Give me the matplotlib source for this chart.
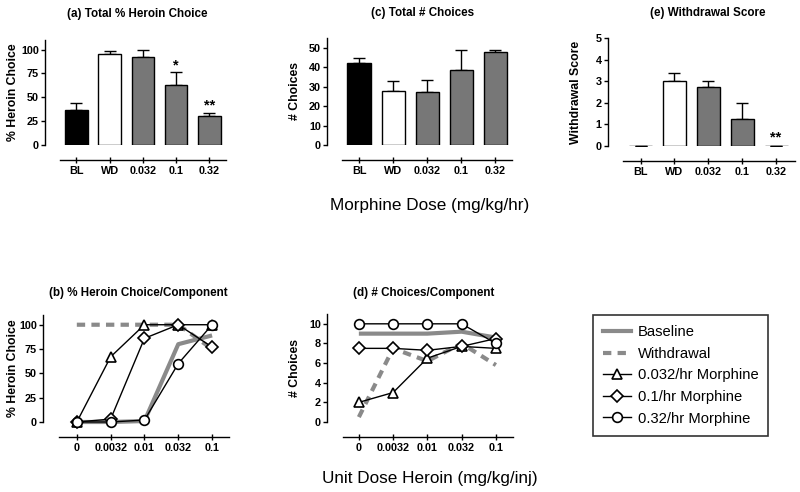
import matplotlib
matplotlib.use("Agg")
import matplotlib.pyplot as plt
from matplotlib.lines import Line2D

plt.rcParams['font.family'] = ['Liberation Sans', 'DejaVu Sans']

W, H = 800, 492

# ---- Data ----
bar_cats = ["BL", "WD", "0.032", "0.1", "0.32"]
bar_colors = ["black", "white", "#777777", "#777777", "#777777"]

pct_choice = [37, 95, 92, 63, 30]
pct_choice_err = [7, 4, 8, 13, 4]
pct_stars = ["", "", "", "*", "**"]

n_choices = [42, 28, 27, 38.5, 48]
n_choices_err = [2.5, 5, 6.5, 10.5, 0.7]

wd_score = [0, 3.0, 2.75, 1.25, 0]
wd_score_err = [0, 0.4, 0.25, 0.75, 0]
wd_stars = ["", "", "", "", "**"]

unit_doses = ["0", "0.0032", "0.01", "0.032", "0.1"]

comp_pct_baseline = [0, 0, 1, 80, 89]
comp_pct_withdrawal = [100, 100, 100, 100, 75]
comp_pct_m032 = [0, 67, 100, 100, 100]
comp_pct_m1 = [0, 3, 86, 100, 77]
comp_pct_m32 = [0, 0, 2, 60, 100]

comp_n_baseline = [9.0, 9.0, 9.0, 9.2, 8.6]
comp_n_withdrawal = [0.5, 7.5, 6.2, 8.0, 5.8]
comp_n_m032 = [2, 3, 6.5, 7.7, 7.5]
comp_n_m1 = [7.5, 7.5, 7.3, 7.7, 8.5]
comp_n_m32 = [10, 10, 10, 10, 8.0]

legend_labels = ["Baseline", "Withdrawal", "0.032/hr Morphine",
                 "0.1/hr Morphine", "0.32/hr Morphine"]

GRAY_LINE = "#8a8a8a"
TICK_FS = 7.8
YLAB_FS = 8.8
TITLE_FS = 8.4

fig = plt.figure(figsize=(W / 100, H / 100), dpi=100)


def make_ax(left, right, top, bottom):
    ax = fig.add_axes([left / W, 1 - bottom / H, (right - left) / W, (bottom - top) / H])
    ax._wpx = right - left
    return ax


def style_ax(ax, xlim, xbounds, ylim, yticks, ylabel, xlabels, ylab_off=31):
    ax.set_xlim(*xlim)
    ax.set_ylim(*ylim)
    for s in ["top", "right"]:
        ax.spines[s].set_visible(False)
    ax.spines["bottom"].set_position(("outward", 10.8))
    ax.spines["bottom"].set_bounds(*xbounds)
    for s in ["left", "bottom"]:
        ax.spines[s].set_linewidth(1.0)
    ax.set_yticks(yticks)
    ax.set_xticks(range(len(xlabels)))
    ax.set_xticklabels(xlabels, fontweight="bold", fontsize=TICK_FS)
    for lab in ax.get_yticklabels():
        lab.set_fontweight("bold")
        lab.set_fontsize(TICK_FS)
    ax.tick_params(axis="y", direction="out", length=3, width=1.0, pad=1.5)
    ax.tick_params(axis="x", direction="inout", length=4, width=1.0, pad=2)
    ax.set_ylabel(ylabel, fontweight="bold", fontsize=YLAB_FS, va="center", ha="center")
    ax.yaxis.set_label_coords(-ylab_off / ax._wpx, 0.5)
    ax.patch.set_visible(False)


def bar_panel(ax, vals, errs, stars, star_off):
    x = list(range(len(vals)))
    ax.errorbar(x, vals, yerr=[[0] * len(errs), errs], fmt="none",
                ecolor="black", elinewidth=1.0, capsize=4, capthick=1.0, zorder=1)
    ax.bar(x, vals, width=0.68, color=bar_colors, edgecolor="black",
           linewidth=1.0, zorder=2)
    for xi, v, e, s in zip(x, vals, errs, stars):
        if s:
            ax.text(xi, v + e + star_off, s, ha="center", va="bottom",
                    fontsize=10.5, fontweight="bold")


# (a)
ax_a = make_ax(45, 226, 40, 145)
bar_panel(ax_a, pct_choice, pct_choice_err, pct_stars, 0)
style_ax(ax_a, (-0.94, 4.5), (-0.48, 4.5), (0, 110), [0, 25, 50, 75, 100],
         "% Heroin Choice", bar_cats, 32)

# (c)
ax_c = make_ax(327, 512, 38, 145)
bar_panel(ax_c, n_choices, n_choices_err, [""] * 5, 0)
style_ax(ax_c, (-0.94, 4.49), (-0.5, 4.49), (0, 55), [0, 10, 20, 30, 40, 50],
         "# Choices", bar_cats, 32)

# (e)
ax_e = make_ax(608, 795, 38, 146)
bar_panel(ax_e, wd_score, wd_score_err, wd_stars, 0.08)
style_ax(ax_e, (-0.96, 4.56), (-0.52, 4.56), (0, 5), [0, 1, 2, 3, 4, 5],
         "Withdrawal Score", bar_cats, 32)


MS = dict(tri=7.5, dia=6, cir=7)


def line_panel(ax, base, wd, m032, m1, m32):
    x = list(range(len(base)))
    ax.plot(x, base, color=GRAY_LINE, lw=3, solid_capstyle="butt", zorder=2, clip_on=False)
    ax.plot(x, wd, color=GRAY_LINE, lw=3, ls=(0, (2, 1.5)), zorder=2, clip_on=False)
    mk = dict(color="black", lw=1.0, mfc="white", mec="black", mew=1.2, zorder=3, clip_on=False)
    ax.plot(x, m032, marker="^", ms=MS["tri"], **mk)
    ax.plot(x, m1, marker="D", ms=MS["dia"], **mk)
    ax.plot(x, m32, marker="o", ms=MS["cir"], **mk)


# (b)
ax_b = make_ax(43, 229, 315, 422)
line_panel(ax_b, comp_pct_baseline, comp_pct_withdrawal, comp_pct_m032, comp_pct_m1, comp_pct_m32)
style_ax(ax_b, (-1.0, 4.5), (-0.53, 4.5), (0, 110), [0, 25, 50, 75, 100],
         "% Heroin Choice", unit_doses, 30)

# (d)
ax_d = make_ax(327, 513, 314, 422)
line_panel(ax_d, comp_n_baseline, comp_n_withdrawal, comp_n_m032, comp_n_m1, comp_n_m32)
style_ax(ax_d, (-0.93, 4.5), (-0.47, 4.5), (0, 11), [0, 2, 4, 6, 8, 10],
         "# Choices", unit_doses, 32)

# Titles
def ftext(px, py, s, **kw):
    fig.text(px / W, 1 - py / H, s, ha="center", va="center", **kw)


ftext(137, 14, "(a) Total % Heroin Choice", fontsize=TITLE_FS, fontweight="bold")
ftext(423, 13, "(c) Total # Choices", fontsize=TITLE_FS, fontweight="bold")
ftext(708, 13, "(e) Withdrawal Score", fontsize=TITLE_FS, fontweight="bold")
ftext(138, 293, "(b) % Heroin Choice/Component", fontsize=TITLE_FS, fontweight="bold")
ftext(424, 293, "(d) # Choices/Component", fontsize=TITLE_FS, fontweight="bold")
ftext(430, 205, "Morphine Dose (mg/kg/hr)", fontsize=12.3)
ftext(430, 478, "Unit Dose Heroin (mg/kg/inj)", fontsize=12.3)

# Legend
handles = [
    Line2D([], [], color=GRAY_LINE, lw=3),
    Line2D([], [], color=GRAY_LINE, lw=3, ls=(0, (2, 1.5))),
    Line2D([], [], color="black", lw=1.0, marker="^", ms=MS["tri"], mfc="white", mec="black", mew=1.2),
    Line2D([], [], color="black", lw=1.0, marker="D", ms=MS["dia"], mfc="white", mec="black", mew=1.2),
    Line2D([], [], color="black", lw=1.0, marker="o", ms=MS["cir"], mfc="white", mec="black", mew=1.2),
]
leg = fig.legend(handles, legend_labels, loc="upper left",
                 bbox_to_anchor=(593 / W, 1 - 315 / H), borderaxespad=0,
                 fontsize=10.6, frameon=True, fancybox=False, handlelength=1.9,
                 labelspacing=0.52, handletextpad=0.45, borderpad=0.68)
leg.get_frame().set_edgecolor("black")
leg.get_frame().set_linewidth(1.2)

fig.savefig("out.png", dpi=100)
